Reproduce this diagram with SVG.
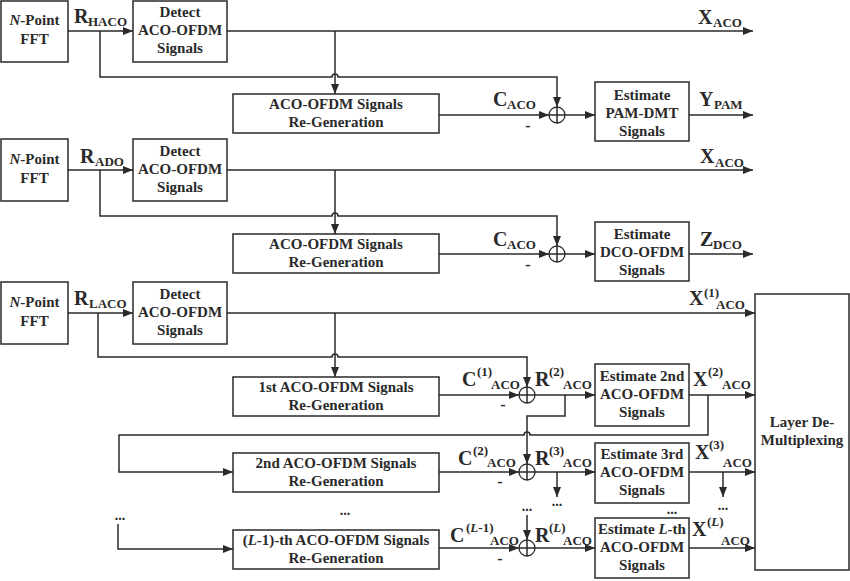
<svg xmlns="http://www.w3.org/2000/svg" width="850" height="581" viewBox="0 0 850 581">
<style>
.box{fill:#fff;stroke:#2a2a2a;stroke-width:1.5}
.ln{fill:none;stroke:#2a2a2a;stroke-width:1.5}
.ar{fill:none;stroke:#2a2a2a;stroke-width:1.5;marker-end:url(#ah)}
.t{font-family:"Liberation Serif","Times New Roman",serif;font-weight:bold;font-size:15px;fill:#2a2a2a;text-anchor:middle}
.big{font-family:"Liberation Serif","Times New Roman",serif;font-weight:bold;font-size:20px;fill:#2a2a2a}
.sub{font-family:"Liberation Serif","Times New Roman",serif;font-weight:bold;font-size:13px;fill:#2a2a2a}
.sup{font-family:"Liberation Serif","Times New Roman",serif;font-weight:bold;font-size:13px;fill:#2a2a2a}
.dots{font-family:"Liberation Serif","Times New Roman",serif;font-weight:bold;font-size:14px;fill:#2a2a2a;text-anchor:middle}
.mn{font-family:"Liberation Serif","Times New Roman",serif;font-weight:bold;font-size:16px;fill:#2a2a2a;text-anchor:middle}
.sum{fill:#fff;stroke:#2a2a2a;stroke-width:1.3}
</style>
<defs>
<marker id="ah" markerUnits="userSpaceOnUse" markerWidth="10" markerHeight="8" refX="10" refY="4" orient="auto">
<path d="M0,0 L10,4 L0,8 z" fill="#2a2a2a"/>
</marker>
<g id="plus"><circle class="sum" cx="0" cy="0" r="8"/><path class="ln" stroke-width="1.2" d="M-8,0 H8 M0,-8 V8"/></g>
</defs>

<g id="connectors">
<!-- section 1 -->
<path class="ar" d="M68,31 H133"/>
<path class="ar" d="M227,31 H753"/>
<path class="ar" d="M100,31 V77 H332 a3,3 0 0 1 6,0 H557 V107"/>
<path class="ar" d="M335,31 V94"/>
<path class="ar" d="M439,115 H549"/>
<path class="ar" d="M565,115 H595"/>
<path class="ar" d="M689,115 H753"/>
<!-- section 2 -->
<path class="ar" d="M68,170 H133"/>
<path class="ar" d="M227,170 H753"/>
<path class="ar" d="M100,170 V216 H332 a3,3 0 0 1 6,0 H557 V246"/>
<path class="ar" d="M335,170 V234"/>
<path class="ar" d="M439,254 H549"/>
<path class="ar" d="M565,254 H595"/>
<path class="ar" d="M689,254 H753"/>
<!-- section 3 -->
<path class="ar" d="M68,313 H133"/>
<path class="ar" d="M227,313 H755"/>
<path class="ar" d="M98,313 V357 H332 a3,3 0 0 1 6,0 H527 V387"/>
<path class="ar" d="M335,313 V377"/>
<path class="ar" d="M439,395 H519"/>
<path class="ar" d="M535,395 H595"/>
<path class="ar" d="M689,395 H755"/>
<path class="ar" d="M565,395 V416 H527 V464"/>
<path class="ar" d="M708,395 V435 H530 a3,3 0 0 0 -6,0 H119 V472 H233"/>
<path class="ar" d="M439,472 H519"/>
<path class="ar" d="M535,472 H595"/>
<path class="ar" d="M689,472 H755"/>
<path class="ar" d="M557,472 V497"/>
<path class="ar" d="M723,472 V497"/>
<path class="ar" d="M118,524 V549 H233"/>
<path class="ar" d="M527,515 V540"/>
<path class="ar" d="M439,548 H519"/>
<path class="ar" d="M535,548 H595"/>
<path class="ar" d="M689,548 H755"/>
</g>

<g id="sums">
<use href="#plus" x="557" y="115"/>
<use href="#plus" x="557" y="254"/>
<use href="#plus" x="527" y="395"/>
<use href="#plus" x="527" y="472"/>
<use href="#plus" x="527" y="548"/>
</g>

<!-- section 1 nodes -->
<g id="fft1"><rect class="box" x="1" y="1" width="67" height="61"/>
<text class="t" x="34.5" y="25"><tspan font-style="italic">N</tspan>-Point</text><text class="t" x="34.5" y="44">FFT</text></g>
<g id="detect1"><rect class="box" x="133" y="1" width="94" height="61"/>
<text class="t" x="180" y="17">Detect</text><text class="t" x="180" y="35">ACO-OFDM</text><text class="t" x="180" y="53">Signals</text></g>
<g id="regen1"><rect class="box" x="233" y="94" width="206" height="39"/>
<text class="t" x="336" y="109">ACO-OFDM Signals</text><text class="t" x="336" y="127">Re-Generation</text></g>
<g id="estpam"><rect class="box" x="595" y="82" width="94" height="59"/>
<text class="t" x="642" y="100">Estimate</text><text class="t" x="642" y="118">PAM-DMT</text><text class="t" x="642" y="136">Signals</text></g>

<!-- section 2 nodes -->
<g id="fft2"><rect class="box" x="1" y="139" width="67" height="62"/>
<text class="t" x="34.5" y="164"><tspan font-style="italic">N</tspan>-Point</text><text class="t" x="34.5" y="183">FFT</text></g>
<g id="detect2"><rect class="box" x="133" y="139" width="94" height="62"/>
<text class="t" x="180" y="156">Detect</text><text class="t" x="180" y="174">ACO-OFDM</text><text class="t" x="180" y="192">Signals</text></g>
<g id="regen2"><rect class="box" x="233" y="234" width="206" height="39"/>
<text class="t" x="336" y="249">ACO-OFDM Signals</text><text class="t" x="336" y="267">Re-Generation</text></g>
<g id="estdco"><rect class="box" x="595" y="222" width="94" height="59"/>
<text class="t" x="642" y="239">Estimate</text><text class="t" x="642" y="257">DCO-OFDM</text><text class="t" x="642" y="275">Signals</text></g>

<!-- section 3 nodes -->
<g id="fft3"><rect class="box" x="1" y="282" width="67" height="62"/>
<text class="t" x="34.5" y="307"><tspan font-style="italic">N</tspan>-Point</text><text class="t" x="34.5" y="326">FFT</text></g>
<g id="detect3"><rect class="box" x="133" y="282" width="94" height="62"/>
<text class="t" x="180" y="299">Detect</text><text class="t" x="180" y="317">ACO-OFDM</text><text class="t" x="180" y="335">Signals</text></g>
<g id="regen1st"><rect class="box" x="233" y="377" width="206" height="39"/>
<text class="t" x="336" y="392">1st ACO-OFDM Signals</text><text class="t" x="336" y="410">Re-Generation</text></g>
<g id="est2nd"><rect class="box" x="595" y="364" width="94" height="62"/>
<text class="t" x="642" y="381">Estimate 2nd</text><text class="t" x="642" y="399">ACO-OFDM</text><text class="t" x="642" y="417">Signals</text></g>
<g id="regen2nd"><rect class="box" x="233" y="453" width="206" height="39"/>
<text class="t" x="336" y="468">2nd ACO-OFDM Signals</text><text class="t" x="336" y="486">Re-Generation</text></g>
<g id="est3rd"><rect class="box" x="595" y="443" width="94" height="60"/>
<text class="t" x="642" y="459">Estimate 3rd</text><text class="t" x="642" y="477">ACO-OFDM</text><text class="t" x="642" y="495">Signals</text></g>
<g id="regenL1"><rect class="box" x="233" y="530" width="206" height="39"/>
<text class="t" x="336" y="545">(<tspan font-style="italic">L</tspan>-1)-th ACO-OFDM Signals</text><text class="t" x="336" y="563">Re-Generation</text></g>
<g id="estL"><rect class="box" x="595" y="518" width="94" height="60"/>
<text class="t" x="642" y="534">Estimate <tspan font-style="italic">L</tspan>-th</text><text class="t" x="642" y="552">ACO-OFDM</text><text class="t" x="642" y="570">Signals</text></g>
<g id="layer"><rect class="box" x="755" y="294" width="94" height="276"/>
<text class="t" x="802" y="427">Layer De-</text><text class="t" x="802" y="445">Multiplexing</text></g>

<g id="labels">
<text class="big" x="74" y="23">R</text><text class="sub" x="88" y="26">HACO</text>
<text class="big" x="698" y="24">X</text><text class="sub" x="713" y="27">ACO</text>
<text class="big" x="493" y="106">C</text><text class="sub" x="507" y="109">ACO</text>
<text class="mn" x="528" y="131">-</text>
<text class="big" x="699" y="106">Y</text><text class="sub" x="714" y="109">PAM</text>

<text class="big" x="80" y="163">R</text><text class="sub" x="95" y="166">ADO</text>
<text class="big" x="700" y="163">X</text><text class="sub" x="715" y="167">ACO</text>
<text class="big" x="493" y="246">C</text><text class="sub" x="507" y="249">ACO</text>
<text class="mn" x="528" y="270">-</text>
<text class="big" x="700" y="246">Z</text><text class="sub" x="713" y="249">DCO</text>

<text class="big" x="74" y="305">R</text><text class="sub" x="89" y="308">LACO</text>
<text class="big" x="689" y="305">X</text><text class="sup" x="704" y="297">(1)</text><text class="sub" x="716" y="309">ACO</text>
<text class="big" x="462" y="386">C</text><text class="sup" x="477" y="376">(1)</text><text class="sub" x="491" y="389">ACO</text>
<text class="mn" x="503" y="410">-</text>
<text class="big" x="535" y="386">R</text><text class="sup" x="549" y="376">(2)</text><text class="sub" x="563" y="389">ACO</text>
<text class="big" x="693" y="386">X</text><text class="sup" x="708" y="376">(2)</text><text class="sub" x="722" y="389">ACO</text>

<text class="big" x="458" y="465">C</text><text class="sup" x="473" y="455">(2)</text><text class="sub" x="487" y="467">ACO</text>
<text class="mn" x="500" y="487">-</text>
<text class="big" x="535" y="465">R</text><text class="sup" x="549" y="455">(3)</text><text class="sub" x="563" y="467">ACO</text>
<text class="big" x="695" y="459">X</text><text class="sup" x="709" y="449">(3)</text><text class="sub" x="723" y="467">ACO</text>

<text class="dots" x="557" y="506">...</text>
<text class="dots" x="723" y="510">...</text>
<text class="dots" x="672" y="514">...</text>
<text class="dots" x="345" y="515">...</text>
<text class="dots" x="120" y="520">...</text>
<text class="dots" x="527" y="511">...</text>

<text class="big" x="450" y="542">C</text><text class="sup" x="466" y="532">(<tspan font-style="italic">L</tspan>-1)</text><text class="sub" x="490" y="545">ACO</text>
<text class="mn" x="500" y="564">-</text>
<text class="big" x="535" y="542">R</text><text class="sup" x="549" y="532">(<tspan font-style="italic">L</tspan>)</text><text class="sub" x="563" y="545">ACO</text>
<text class="big" x="692" y="536">X</text><text class="sup" x="707" y="526">(<tspan font-style="italic">L</tspan>)</text><text class="sub" x="721" y="545">ACO</text>
</g>
</svg>
